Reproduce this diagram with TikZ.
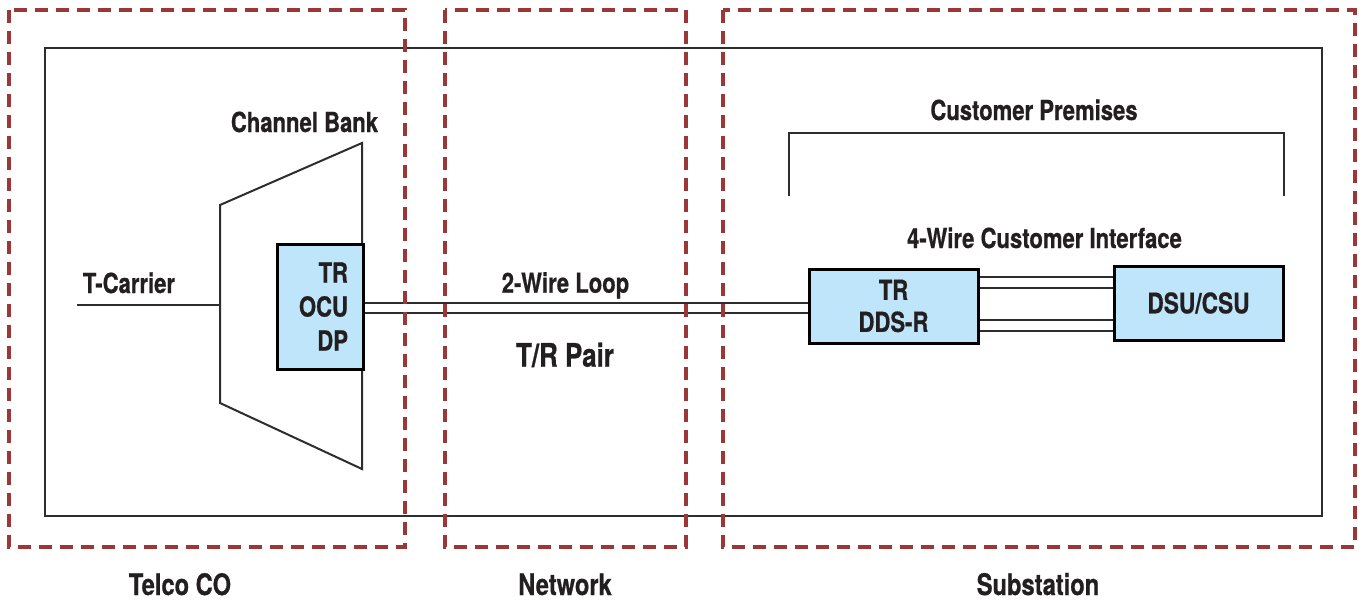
\documentclass[tikz,border=0pt]{standalone}
\usepackage{fontspec}
\newfontfamily\labfont{TeX Gyre Heros}[FakeStretch=0.8, FakeBold=0.6]
\definecolor{zonered}{RGB}{155,55,55}
\definecolor{unitblue}{RGB}{190,229,249}
\definecolor{ink}{RGB}{35,31,32}
\definecolor{linegray}{RGB}{45,45,45}
\tikzset{
  zone/.style={draw=zonered, line width=2pt, dash pattern=on 6.5pt off 4pt, line join=miter},
  outline/.style={draw=linegray, line width=1pt},
  wire/.style={draw=linegray, line width=1pt},
  unitbox/.style={draw=black, line width=1.5pt, fill=unitblue, text=ink, inner sep=0pt,
    minimum width=84.5pt, minimum height=37pt, align=center,
    font=\labfont\bfseries\fontsize{13.8pt}{16pt}\selectfont},
  lab/.style={text=ink, anchor=base, inner sep=0pt,
    font=\labfont\bfseries\fontsize{13.8pt}{16pt}\selectfont},
  biglab/.style={lab, font=\labfont\bfseries\fontsize{14.8pt}{17pt}\selectfont},
}
\begin{document}
\begin{tikzpicture}[x=0.5pt, y=-0.5pt]
\useasboundingbox (0,0) rectangle (1362,600);

% outer system boundary
\draw[outline] (45,48) rectangle (1322,516);

% channel bank
\draw[outline, line join=miter] (220,205) -- (362,143) -- (362,469) -- (220,403) -- cycle;
\node[lab] (cbank) at (304.5,132) {Channel Bank};
\coordinate (tc) at (77,305);
\coordinate (cbin) at (220,305);
\draw[outline] (tc) -- (cbin);
\node[lab] (tcarrier) at (129,293) {T-Carrier};

% office channel unit
\node[unitbox, minimum width=43pt, minimum height=62.5pt, text width=28pt, inner xsep=7.5pt,
      align=right, font=\labfont\bfseries\fontsize{13.8pt}{17pt}\selectfont]
  (ocu) at (320,306.5) {TR\\OCU\\DP};

% customer premises units
\node[unitbox] (dds) at (893.5,306) {TR\\DDS-R};
\node[unitbox, font=\labfont\bfseries\fontsize{14.2pt}{17pt}\selectfont] (dsu) at (1198.5,303) {DSU/CSU};

% two-wire loop
\coordinate (la) at (0,302.7);
\coordinate (lb) at (0,313.3);
\draw[wire] (ocu.east |- la) -- (dds.west |- la);
\draw[wire] (ocu.east |- lb) -- (dds.west |- lb);
\node[lab] (loop) at (565.5,292.7) {2-Wire Loop};
\node[lab, font=\labfont\bfseries\fontsize{16.2pt}{19pt}\selectfont] (pair) at (565,366.7) {T/R Pair};

% four-wire interface
\foreach \y/\n in {276.7/a, 287.7/b, 320/c, 331/d} {
  \coordinate (f\n) at (0,\y);
  \draw[wire] (dds.east |- f\n) -- (dsu.west |- f\n);
}
\node[lab] (fourwire) at (1044.5,248) {4-Wire Customer Interface};

% customer premises bracket
\draw[outline, line join=miter] (789,196) -- (789,133) -- (1284,133) -- (1284,196);
\node[lab] (premises) at (1034,120) {Customer Premises};

% zones
\draw[zone] (9,10) rectangle (405,547);
\draw[zone] (445,10) rectangle (686,547);
\draw[zone] (723,10) rectangle (1355,547);
\node[biglab] (telco) at (180,595) {Telco CO};
\node[biglab] (network) at (565,595) {Network};
\node[biglab] (substation) at (1038,595) {Substation};
\end{tikzpicture}
\end{document}
